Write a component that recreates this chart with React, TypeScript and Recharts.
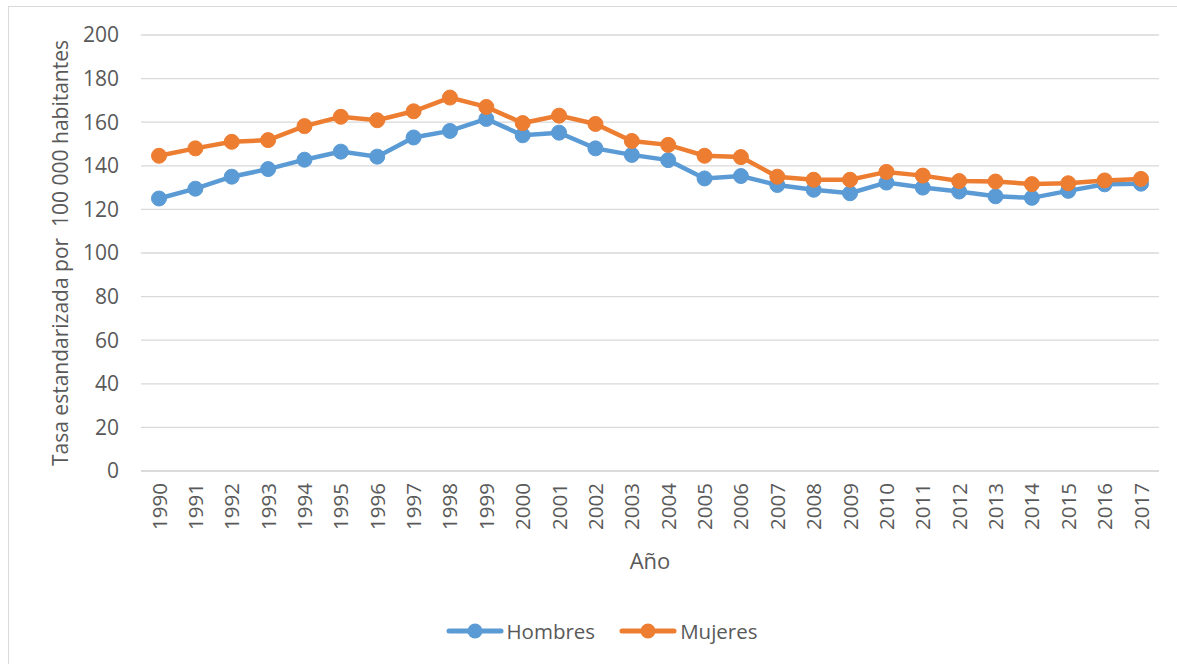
import React from 'react';
import {CartesianGrid, Legend, Line, LineChart, XAxis, YAxis} from 'recharts';

const years = [
    '1990', '1991', '1992', '1993', '1994', '1995', '1996', '1997', '1998', '1999',
    '2000', '2001', '2002', '2003', '2004', '2005', '2006', '2007', '2008', '2009',
    '2010', '2011', '2012', '2013', '2014', '2015', '2016', '2017'
];

const hombres = [
    125, 129.5, 135, 138.5, 142.8, 146.5, 144.2, 153, 156, 161.5,
    154, 155.2, 148, 145, 142.6, 134.2, 135.3, 131.2, 129, 127.4,
    132.3, 130, 128.2, 126, 125.3, 128.5, 131.5, 131.8
];

const mujeres = [
    144.6, 148, 151, 151.8, 158.2, 162.5, 160.9, 165, 171.3, 167,
    159.6, 163, 159.2, 151.4, 149.6, 144.6, 144, 135, 133.6, 133.6,
    137.2, 135.5, 133, 132.8, 131.6, 132, 133.3, 134
];

const yTicks = [0, 20, 40, 60, 80, 100, 120, 140, 160, 180, 200];

const data = years.map((year, i) => ({year, hombres: hombres[i], mujeres: mujeres[i]}));

const BLUE = '#5B9BD5';
const ORANGE = '#ED7D31';
const TEXT = '#595959';
const FONT = '"Open Sans", sans-serif';

const YearTick = (props: any) => {
    const {x, y, payload} = props;
    return (
        <g transform={`translate(${x},${y + 4})`}>
            <text x={0} y={0} dy={7.5} transform="rotate(-90)" textAnchor="end"
                  fill={TEXT} fontSize={20.5} fontFamily={FONT}>
                {payload.value}
            </text>
        </g>
    );
};

const YTitle = (props: any) => {
    const {viewBox} = props;
    const cy = viewBox.y + viewBox.height / 2;
    return (
        <text x={0} y={0} transform={`translate(68,${cy}) rotate(-90)`} textAnchor="middle"
              fill={TEXT} fontSize={21} fontFamily={FONT} style={{whiteSpace: 'pre'}}>
            {'Tasa estandarizada por  100 000 habitantes'}
        </text>
    );
};

const LegendContent = () => {
    const items = [
        {name: 'Hombres', color: BLUE},
        {name: 'Mujeres', color: ORANGE}
    ];
    return (
        <div style={{display: 'flex', justifyContent: 'center', gap: 24, fontFamily: FONT, fontSize: 20.5, color: TEXT}}>
            {items.map(item => (
                <div key={item.name} style={{display: 'flex', alignItems: 'center'}}>
                    <svg width={58} height={20}>
                        <line x1={3} y1={10} x2={55} y2={10} stroke={item.color} strokeWidth={5} strokeLinecap="round"/>
                        <circle cx={29} cy={10} r={7.5} fill={item.color}/>
                    </svg>
                    <span style={{marginLeft: 3}}>{item.name}</span>
                </div>
            ))}
        </div>
    );
};

const App: React.FC = () => {
    return (
        <div style={{position: 'absolute', left: 0, top: 0, width: 1177, height: 664, background: '#fff'}}>
            <div style={{
                position: 'absolute', left: 8, top: 6, width: 1180, height: 670,
                border: '1.5px solid #d9d9d9', boxSizing: 'border-box'
            }}/>
            <div style={{position: 'absolute', left: 0, top: 0}}>
                <LineChart width={1177} height={664} data={data}
                           margin={{top: 35, right: 18, left: 0, bottom: 83}}>
                    <CartesianGrid vertical={false} stroke="#d9d9d9" strokeWidth={1.3}/>
                    <XAxis dataKey="year" interval={0} height={110} tick={<YearTick/>}
                           tickLine={false} axisLine={{stroke: '#d9d9d9', strokeWidth: 1.3}}
                           padding={{left: 18, right: 18}}
                           label={{value: 'Año', position: 'insideBottom', offset: 12, fill: TEXT,
                               fontSize: 22, fontFamily: FONT}}/>
                    <YAxis width={141} domain={[0, 200]} ticks={yTicks} interval={0}
                           tickLine={false} axisLine={false} tickSize={0} tickMargin={22}
                           tick={{fill: TEXT, fontSize: 21, fontFamily: FONT}}
                           label={{content: <YTitle/>}}/>
                    <Legend verticalAlign="middle" align="center" layout="horizontal"
                            content={<LegendContent/>}
                            wrapperStyle={{top: 617, left: 0, width: 1203}}/>
                    <Line dataKey="hombres" name="Hombres" stroke={BLUE} strokeWidth={4.5}
                          dot={{r: 7.5, fill: BLUE, stroke: BLUE, strokeWidth: 1}}
                          isAnimationActive={false}/>
                    <Line dataKey="mujeres" name="Mujeres" stroke={ORANGE} strokeWidth={4.5}
                          dot={{r: 7.5, fill: ORANGE, stroke: ORANGE, strokeWidth: 1}}
                          isAnimationActive={false}/>
                </LineChart>
            </div>
        </div>
    );
};

export default App;
